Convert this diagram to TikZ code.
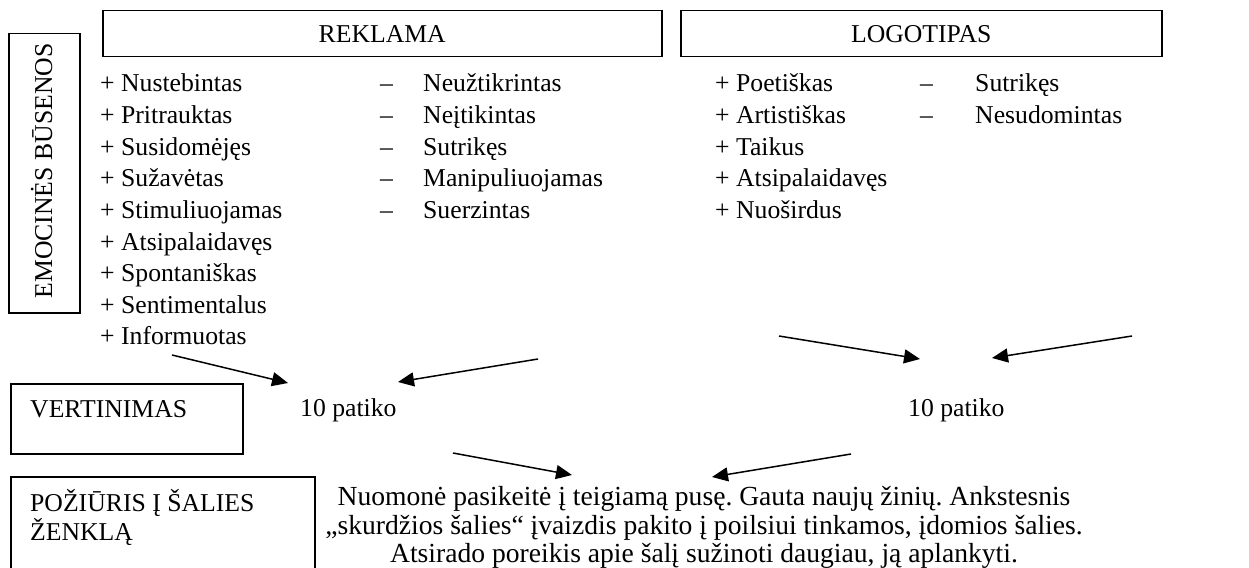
\documentclass[tikz,border=0pt]{standalone}
\usepackage{fontspec}
\setmainfont{Liberation Serif}
\usetikzlibrary{arrows.meta}
\newcommand{\bodyfont}{\fontsize{25.7}{31.6}\selectfont}
\newcommand{\notefont}{\fontsize{27.6}{29}\selectfont\frenchspacing}
\begin{document}
\begin{tikzpicture}[x=1pt,y=-1pt,
  frame/.style={draw,line width=1.5pt,inner sep=0pt,anchor=north west},
  txt/.style={inner sep=0pt,anchor=base west,font=\bodyfont},
  ctxt/.style={inner sep=0pt,anchor=base,font=\bodyfont},
  note/.style={inner sep=0pt,anchor=base,font=\notefont},
  arr/.style={line width=1.5pt,-{Triangle[length=16pt,width=14pt]}}]
\clip (0,0) rectangle (1249,567);

% row headings on the left
\node[frame,minimum width=71pt,minimum height=279pt] (emobox) at (8,33) {};
\node[ctxt,rotate=90] (emo) at (52,171) {EMOCINĖS BŪSENOS};
\node[frame,minimum width=232pt,minimum height=70pt] (vertbox) at (10,383) {};
\node[txt] (vert) at (30,417) {VERTINIMAS};
\node[frame,minimum width=304pt,minimum height=130pt] (pozbox) at (10,476) {};
\node[txt] (poz1) at (30,511) {POŽIŪRIS Į ŠALIES};
\node[txt] (poz2) at (30,540) {ŽENKLĄ};

% column headings
\node[frame,minimum width=559pt,minimum height=46pt,font=\bodyfont] (reklama) at (102,10) {REKLAMA};
\node[frame,minimum width=481pt,minimum height=46pt,font=\bodyfont] (logo) at (680,10) {LOGOTIPAS};

% emotional states: advertisement
\foreach \w [count=\i from 0] in {Nustebintas,Pritrauktas,Susidomėjęs,Sužavėtas,Stimuliuojamas,Atsipalaidavęs,Spontaniškas,Sentimentalus,Informuotas}
  \node[txt] (rp\i) at (100,92+31.6*\i) {+ \w};
\foreach \w [count=\i from 0] in {Neužtikrintas,Neįtikintas,Sutrikęs,Manipuliuojamas,Suerzintas}
  \node[txt] (rm\i) at (380,92+31.6*\i) {\makebox[43pt][l]{–}\w};

% emotional states: logo
\foreach \w [count=\i from 0] in {Poetiškas,Artistiškas,Taikus,Atsipalaidavęs,Nuoširdus}
  \node[txt] (lp\i) at (715,92+31.6*\i) {+ \w};
\foreach \w [count=\i from 0] in {Sutrikęs,Nesudomintas}
  \node[txt] (lm\i) at (920,92+31.6*\i) {\makebox[55pt][l]{–}\w};

% evaluation
\node[txt] (evr) at (300,416) {10 patiko};
\node[txt] (evl) at (908,416) {10 patiko};

% attitude
\node[note] (att1) at (704,505) {Nuomonė pasikeitė į teigiamą pusę. Gauta naujų žinių. Ankstesnis};
\node[note] (att2) at (704,534) {„skurdžios šalies“ įvaizdis pakito į poilsiui tinkamos, įdomios šalies.};
\node[note] (att3) at (704,562) {Atsirado poreikis apie šalį sužinoti daugiau, ją aplankyti.};

% arrow ends
\coordinate (a1s) at (172,355);  \coordinate (a1e) at (288,383);
\coordinate (a2s) at (538,359);  \coordinate (a2e) at (398,382);
\coordinate (a3s) at (779,336);  \coordinate (a3e) at (920,359);
\coordinate (a4s) at (1132,336); \coordinate (a4e) at (992,358);
\coordinate (a5s) at (453,453);  \coordinate (a5e) at (572,475);
\coordinate (a6s) at (851,454);  \coordinate (a6e) at (712,477);

\draw[arr] (a1s) -- (a1e);
\draw[arr] (a2s) -- (a2e);
\draw[arr] (a3s) -- (a3e);
\draw[arr] (a4s) -- (a4e);
\draw[arr] (a5s) -- (a5e);
\draw[arr] (a6s) -- (a6e);
\end{tikzpicture}
\end{document}
